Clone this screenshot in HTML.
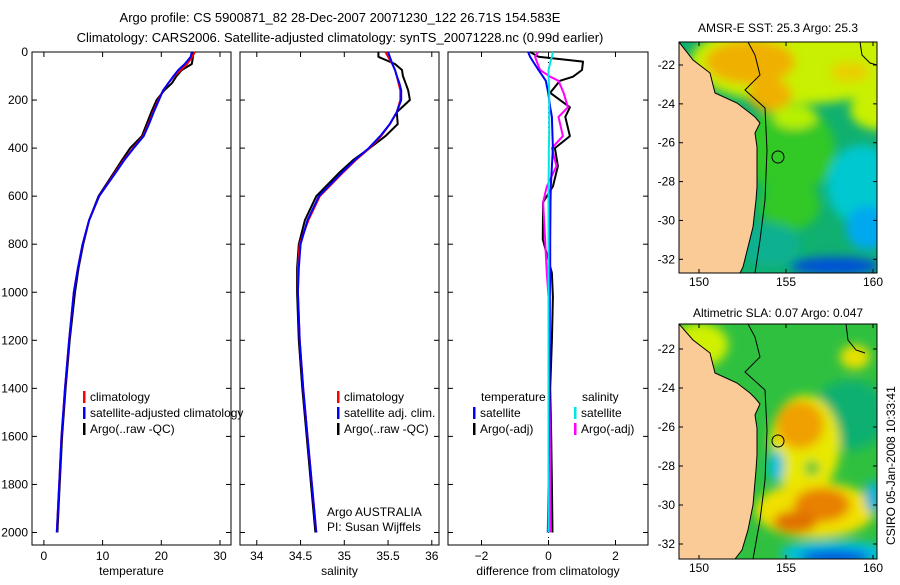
<!DOCTYPE html>
<html><head><meta charset="utf-8">
<style>
html,body{margin:0;padding:0;background:#fff;}
svg text{font-family:"Liberation Sans",sans-serif;fill:#000;}
</style></head>
<body>
<svg id="fig" width="900" height="580" viewBox="0 0 900 580" xmlns="http://www.w3.org/2000/svg">
<defs>
  <filter id="blur" x="-20%" y="-20%" width="140%" height="140%"><feGaussianBlur stdDeviation="5"/></filter>
  <clipPath id="clipTop"><rect x="679" y="42" width="198" height="231"/></clipPath>
  <clipPath id="clipBot"><rect x="679" y="324" width="198" height="235"/></clipPath>
</defs>
<text x="340" y="22" font-size="13" text-anchor="middle">Argo profile: CS 5900871_82 28-Dec-2007 20071230_122 26.71S 154.583E</text>
<text x="340" y="42" font-size="13" text-anchor="middle">Climatology: CARS2006. Satellite-adjusted climatology: synTS_20071228.nc (0.99d earlier)</text>

<g id="profiles"></g>

<!-- Top map -->
<text x="778" y="32" font-size="12" text-anchor="middle">AMSR-E SST: 25.3 Argo: 25.3</text>
<g clip-path="url(#clipTop)">
  <rect x="679" y="42" width="198" height="231" fill="#10b070"/>
  <g filter="url(#blur)">
    <ellipse cx="800" cy="62" rx="110" ry="42" fill="#c8f000"/>
    <ellipse cx="880" cy="110" rx="30" ry="20" fill="#c8f000"/>
    <ellipse cx="790" cy="150" rx="45" ry="45" fill="#30c828"/>
    <ellipse cx="790" cy="205" rx="30" ry="25" fill="#30c828"/>
    <ellipse cx="750" cy="62" rx="45" ry="22" fill="#f0b000"/>
    <ellipse cx="770" cy="95" rx="22" ry="16" fill="#f0b000"/>
    <ellipse cx="795" cy="117" rx="22" ry="12" fill="#b8f000"/>
    <ellipse cx="850" cy="72" rx="20" ry="10" fill="#e8d000"/>
    <ellipse cx="862" cy="185" rx="35" ry="40" fill="#00c8d0"/>
    <ellipse cx="868" cy="228" rx="22" ry="22" fill="#00a8f0"/>
    <ellipse cx="770" cy="245" rx="30" ry="22" fill="#10b090"/>
    <ellipse cx="835" cy="266" rx="45" ry="9" fill="#0050d8"/>
  </g>
  <polygon fill="#fbcb97" stroke="#000" stroke-width="1" points="679,42 679,273 740,273 743,267 748,247 753,227 756,200 757,187 757,147 755,133 760,123 755,117 750,113 737,103 715,93 710,73 693,60 679,42"/>
  <polyline fill="none" stroke="#000" stroke-width="1" points="748,42 755,55 760,75 745,90 765,108 767,150 765,200 760,240 755,273"/>
  <polyline fill="none" stroke="#000" stroke-width="1" points="860,42 862,55 870,63 877,65"/>
  <circle cx="778" cy="157" r="6" fill="none" stroke="#000" stroke-width="1"/>
</g>
<rect x="679" y="42" width="198" height="231" fill="none" stroke="#000" stroke-width="1"/>

<!-- Bottom map -->
<text x="778" y="317" font-size="12" text-anchor="middle">Altimetric SLA: 0.07 Argo: 0.047</text>
<g clip-path="url(#clipBot)">
  <rect x="679" y="324" width="198" height="235" fill="#30c040"/>
  <g filter="url(#blur)">
    <ellipse cx="850" cy="415" rx="38" ry="35" fill="#10b070"/>
    <ellipse cx="700" cy="345" rx="28" ry="22" fill="#d0f000"/>
    <ellipse cx="805" cy="445" rx="35" ry="50" fill="#e8e800"/>
    <ellipse cx="800" cy="425" rx="24" ry="24" fill="#f0a000"/>
    <ellipse cx="815" cy="510" rx="60" ry="28" fill="#f0e000"/>
    <ellipse cx="822" cy="505" rx="28" ry="17" fill="#e88000"/>
    <ellipse cx="795" cy="522" rx="22" ry="11" fill="#e07000"/>
    <ellipse cx="835" cy="553" rx="55" ry="12" fill="#00c0e0"/>
    <ellipse cx="835" cy="557" rx="35" ry="7" fill="#0050e0"/>
    <ellipse cx="776" cy="466" rx="8" ry="16" fill="#00c0e0"/>
    <ellipse cx="855" cy="357" rx="15" ry="12" fill="#e8e000"/>
    <ellipse cx="873" cy="497" rx="8" ry="16" fill="#00b0e0"/>
    <ellipse cx="812" cy="468" rx="7" ry="7" fill="#30c040"/>
  </g>
  <polygon fill="#fbcb97" stroke="#000" stroke-width="1" points="679,324 679,559 735,559 742,550 748,530 753,505 756,470 757,455 757,428 755,415 760,404 755,398 750,393 737,383 715,373 710,353 693,340 679,324"/>
  <polyline fill="none" stroke="#000" stroke-width="1" points="748,324 755,337 760,357 745,372 765,390 767,430 765,480 760,520 753,559"/>
  <polyline fill="none" stroke="#000" stroke-width="1" points="846,324 848,340 856,350 865,353"/>
  <circle cx="778" cy="441" r="6" fill="none" stroke="#000" stroke-width="1"/>
</g>
<rect x="679" y="324" width="198" height="235" fill="none" stroke="#000" stroke-width="1"/>
<text font-size="12" transform="translate(895,545) rotate(-90)">CSIRO 05-Jan-2008 10:33:41</text>
<g id="maptix"></g>
</svg>
<script>
// ---------- data ----------
const depths = [0,20,50,75,100,130,160,200,250,300,350,400,450,500,600,700,800,900,1000,1200,1400,1600,1800,2000];
const tempArgo = [25.4,25.4,25.2,23.5,22.6,21.8,20.5,19.2,18.3,17.5,16.7,14.7,13.3,12.0,9.3,7.7,6.7,5.9,5.3,4.4,3.7,3.1,2.7,2.3];
const tempClim = [25.7,25.3,24.4,23.3,22.2,21.2,20.3,19.5,18.6,17.8,16.9,15.2,13.6,12.2,9.4,7.7,6.6,5.8,5.1,4.3,3.6,3.0,2.6,2.2];
const tempSat  = [25.2,25.0,24.0,22.9,22.1,21.2,20.3,19.6,18.7,17.9,17.0,15.3,13.7,12.3,9.4,7.7,6.6,5.8,5.1,4.3,3.6,3.0,2.6,2.2];
const salArgo = [35.39,35.39,35.58,35.66,35.67,35.70,35.73,35.75,35.60,35.61,35.47,35.29,35.10,34.95,34.68,34.55,34.48,34.46,34.46,34.48,34.52,34.57,34.62,34.67];
const salClim = [35.47,35.50,35.55,35.58,35.60,35.62,35.64,35.64,35.60,35.52,35.42,35.29,35.13,34.99,34.72,34.59,34.49,34.47,34.47,34.49,34.53,34.58,34.63,34.68];
const salSat  = [35.50,35.52,35.55,35.58,35.60,35.63,35.65,35.65,35.60,35.52,35.41,35.28,35.12,34.98,34.71,34.58,34.50,34.48,34.47,34.49,34.53,34.58,34.63,34.68];
const diffDepths = [0,20,40,75,103,120,170,230,270,350,400,475,560,625,780,920,1020,1200,1400,1600,1800,2000];
const tDiffArgo = [-0.55,-0.3,1.03,1.0,0.73,0.34,0.05,0.64,0.5,0.64,0.19,0.28,0.13,-0.16,-0.17,0.1,0.13,0.1,0.05,0.08,0.1,0.12];
const sDiffArgo = [-0.31,-0.4,-0.35,-0.25,0.05,0.3,0.45,0.58,0.3,0.43,0.1,0.24,-0.05,-0.16,-0.1,-0.05,0.0,0.02,0.03,0.05,0.05,0.05];
const tDiffSat  = [-0.61,-0.55,-0.46,-0.3,-0.16,-0.08,-0.01,0.05,0.1,0.12,0.13,0.1,0.07,0.06,0.05,0.05,0.04,0.04,0.03,0.02,0.0,-0.02];
const sDiffSat  = [0.13,0.1,0.06,0.0,0.0,0.01,0.02,0.02,0.02,0.02,0.01,0.01,0.0,0.0,0.0,0.0,0,0,0,0,0,0];
const depthTicks = [0,200,400,600,800,1000,1200,1400,1600,1800,2000];
const tempTicks = [0,10,20,30];
const salTicks = [34,34.5,35,35.5,36];
const diffTicks = [-2,0,2];
const lonTicks = [150,155,160];
const latTicks = [-22,-24,-26,-28,-30,-32];

// ---------- axes ----------
const NS='http://www.w3.org/2000/svg';
const yD = d => 52 + d*0.24025;
const xT = t => 43.9 + 5.87*t;
const xS = s => 256.8 + 87.5*(s-34);
const xDf = v => 548.5 + 33.5*v;
const lonX = l => 699 + (l-150)*17.4;
const latTop = l => 65 + (-22-l)*19.43;
const latBot = l => 349 + (-22-l)*19.5;
const root = document.getElementById('profiles');
function el(tag, attrs, parent){const e=document.createElementNS(NS,tag);for(const k in attrs)e.setAttribute(k,attrs[k]);(parent||root).appendChild(e);return e;}
function txt(x,y,s,anchor,size,parent){const t=el('text',{x:x,y:y,'font-size':size||12,'text-anchor':anchor||'start'},parent);t.textContent=s;return t;}

const panels=[
 {x0:32,x1:231,fx:xT,ticks:tempTicks,title:'temperature',name:'temperature-panel'},
 {x0:240,x1:439,fx:xS,ticks:salTicks,title:'salinity',name:'salinity-panel'},
 {x0:448,x1:648,fx:xDf,ticks:diffTicks,title:'difference from climatology',name:'difference-panel'}];
panels.forEach((p,i)=>{
  const g=el('g',{});
  
  
  const r=el('rect',{x:p.x0,y:52,width:p.x1-p.x0,height:493,fill:'none',stroke:'#000','stroke-width':1},g);
  
  
  depthTicks.forEach(d=>{
    el('line',{x1:p.x0,x2:p.x0+5,y1:yD(d),y2:yD(d),stroke:'#000'},g);
    el('line',{x1:p.x1,x2:p.x1-5,y1:yD(d),y2:yD(d),stroke:'#000'},g);
  });
  p.ticks.forEach(v=>{
    const x=p.fx(v);
    el('line',{x1:x,x2:x,y1:52,y2:57,stroke:'#000'},g);
    el('line',{x1:x,x2:x,y1:545,y2:540,stroke:'#000'},g);
    const t=txt(x,560,String(v).replace('-','\u2212'),'middle',12,g);
    
    
  });
  const at=txt((p.x0+p.x1)/2,575,p.title,'middle',12,g);
  
  
});
depthTicks.forEach(d=>{
  const t=txt(28,yD(d)+4,String(d),'end',12);
  
  
});

function line(xs,ds,fx,color,name,w){
  const pts=xs.map((v,i)=>fx(v).toFixed(1)+','+yD(ds[i]).toFixed(1)).join(' ');
  const pl=el('polyline',{points:pts,fill:'none',stroke:color,'stroke-width':w||2,'stroke-linejoin':'round'});
  
  
}
line(tempArgo,depths,xT,'#000','temp-argo-line');
line(tempClim,depths,xT,'#ff0000','temp-climatology-line');
line(tempSat,depths,xT,'#0000ff','temp-satellite-line');
line(salArgo,depths,xS,'#000','sal-argo-line');
line(salClim,depths,xS,'#ff0000','sal-climatology-line');
line(salSat,depths,xS,'#0000ff','sal-satellite-line');
const zl=el('line',{x1:xDf(0),x2:xDf(0),y1:52,y2:545,stroke:'#000','stroke-dasharray':'1,4'});


line(tDiffArgo,diffDepths,xDf,'#000','temp-diff-argo-line');
line(sDiffArgo,diffDepths,xDf,'#ff00ff','sal-diff-argo-line');
line(tDiffSat,diffDepths,xDf,'#0000ff','temp-diff-satellite-line');
line(sDiffSat,diffDepths,xDf,'#00e5e5','sal-diff-satellite-line');

function legend(x,y,color,label){
  const g=el('g',{});
  
  
  el('rect',{x:x,y:y-10,width:2.5,height:12,fill:color},g);
  txt(x+7,y,label,'start',12,g);
}
legend(83,401,'#ff0000','climatology');
legend(83,417,'#0000ff','satellite-adjusted climatology');
legend(83,433,'#000','Argo(..raw -QC)');
legend(337,401,'#ff0000','climatology');
legend(337,417,'#0000ff','satellite adj. clim.');
legend(337,433,'#000','Argo(..raw -QC)');
const lt=txt(481,401,'temperature','start',12);


const ls=txt(582,401,'salinity','start',12);


legend(473,417,'#0000ff','satellite');
legend(473,433,'#000','Argo(-adj)');
legend(574,417,'#00e5e5','satellite');
legend(574,433,'#ff00ff','Argo(-adj)');
const a1=txt(327,516,'Argo AUSTRALIA','start',12);


const a2=txt(327,531,'PI: Susan Wijffels','start',12);



// map ticks
const mt=document.getElementById('maptix');
[[42,273,latTop,286],[324,559,latBot,572]].forEach(m=>{
  lonTicks.forEach(l=>{
    const x=lonX(l);
    el('line',{x1:x,x2:x,y1:m[0],y2:m[0]+4,stroke:'#000'},mt);
    el('line',{x1:x,x2:x,y1:m[1],y2:m[1]-4,stroke:'#000'},mt);
    const t=txt(x,m[3],String(l),'middle',12,mt);
    
    
  });
  latTicks.forEach(l=>{
    const y=m[2](l);
    el('line',{x1:679,x2:683,y1:y,y2:y,stroke:'#000'},mt);
    el('line',{x1:877,x2:873,y1:y,y2:y,stroke:'#000'},mt);
    const t=txt(675,y+4,String(l),'end',12,mt);
    
    
  });
});
</script>
</body></html>
